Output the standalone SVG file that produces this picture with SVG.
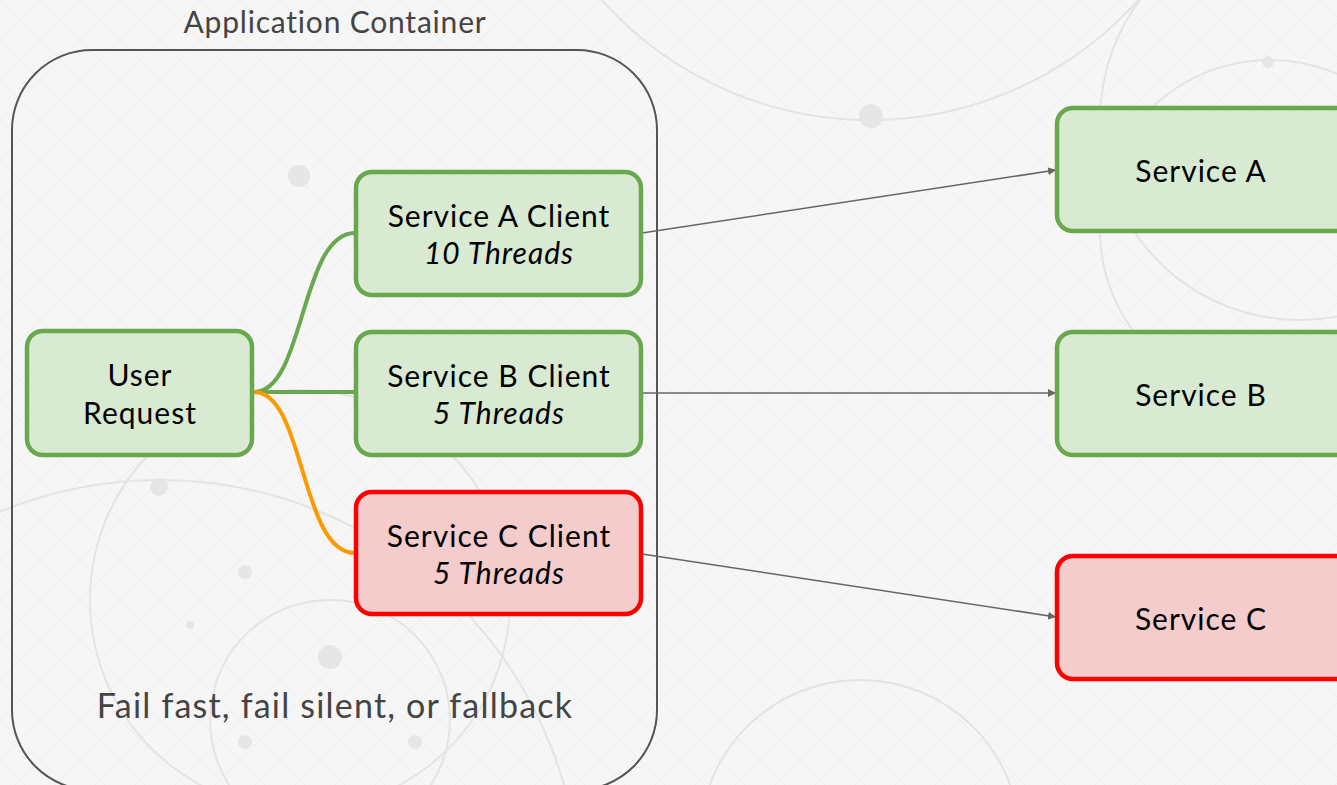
<svg xmlns="http://www.w3.org/2000/svg" width="1337" height="785" viewBox="0 0 1337 785">
<defs>
<style>
.bg{fill:#f6f6f6}
.hatch{fill:url(#hp)}
.deco{fill:none;stroke:#e4e4e4;stroke-width:2}
.dot{fill:#e6e6e6}
.ok{fill:#d9ead3;stroke:#6aa84f;stroke-width:4.5}
.bad{fill:#f4cccc;stroke:#ff0000;stroke-width:4.5}
.t{font-family:Lato,"Liberation Sans",sans-serif;font-size:30px;letter-spacing:1px;fill:#000;text-anchor:middle}
.i{font-style:italic}
.lbl{font-family:Lato,"Liberation Sans",sans-serif;fill:#444;text-anchor:middle}
.arr{fill:none;stroke:#666;stroke-width:1.6;marker-end:url(#ah)}
</style>
<pattern id="hp" width="40" height="40" patternUnits="userSpaceOnUse">
<path d="M0,0 L40,40 M40,0 L0,40" stroke="#efefef" stroke-width="1"/>
</pattern>
<marker id="ah" viewBox="0 0 10 10" refX="10" refY="5" markerWidth="8" markerHeight="8" markerUnits="userSpaceOnUse" orient="auto">
<path d="M0,0 L10,5 L0,10 z" fill="#666"/>
</marker>
</defs>
<rect class="bg" x="0" y="0" width="1337" height="785"/>
<rect class="hatch" x="0" y="0" width="1337" height="785"/>
<g id="background">
<circle class="deco" cx="300" cy="600" r="210"/>
<circle class="deco" cx="330" cy="720" r="120"/>
<circle class="deco" cx="870" cy="-240" r="360"/>
<circle class="deco" cx="1270" cy="230" r="170"/>
<circle class="deco" cx="1300" cy="120" r="200"/>
<circle class="deco" cx="160" cy="900" r="420"/>
<circle class="deco" cx="860" cy="840" r="160"/>
<circle class="dot" cx="299" cy="176" r="11"/>
<circle class="dot" cx="871" cy="116" r="12"/>
<circle class="dot" cx="159" cy="487" r="9"/>
<circle class="dot" cx="245" cy="572" r="7"/>
<circle class="dot" cx="330" cy="657" r="12"/>
<circle class="dot" cx="190" cy="625" r="4"/>
<circle class="dot" cx="245" cy="742" r="7"/>
<circle class="dot" cx="415" cy="742" r="7"/>
<circle class="dot" cx="1268" cy="62" r="6"/>
</g>
<g id="container">
<rect x="12" y="50" width="645" height="740" rx="80" fill="none" stroke="#555" stroke-width="2"/>
<text class="lbl" x="335" y="33" font-size="30" letter-spacing="0.8">Application Container</text>
<text class="lbl" x="335" y="718" font-size="34" letter-spacing="1.2">Fail fast, fail silent, or fallback</text>
</g>
<g id="connectors">
<path d="M254,392 C305,392 300,233 355,233" fill="none" stroke="#6aa84f" stroke-width="4"/>
<path d="M254,392 L355,392" fill="none" stroke="#6aa84f" stroke-width="4"/>
<path d="M254,392 C305,392 300,553 355,553" fill="none" stroke="#ff9900" stroke-width="4"/>
<path class="arr" d="M642,233 L1056,170"/>
<path class="arr" d="M642,393 L1056,393"/>
<path class="arr" d="M642,554 L1056,617"/>
</g>
<g id="user-request">
<rect class="ok" x="27" y="331" width="225" height="124" rx="16"/>
<text class="t" x="140" y="386">User</text>
<text class="t" x="140" y="424">Request</text>
</g>
<g id="service-a-client">
<rect class="ok" x="356" y="172" width="285" height="123" rx="16"/>
<text class="t" x="499" y="227">Service A Client</text>
<text class="t i" x="499" y="264">10 Threads</text>
</g>
<g id="service-b-client">
<rect class="ok" x="356" y="332" width="285" height="123" rx="16"/>
<text class="t" x="499" y="387">Service B Client</text>
<text class="t i" x="499" y="424">5 Threads</text>
</g>
<g id="service-c-client">
<rect class="bad" x="356" y="492" width="285" height="122" rx="16"/>
<text class="t" x="499" y="547">Service C Client</text>
<text class="t i" x="499" y="584">5 Threads</text>
</g>
<g id="service-a">
<rect class="ok" x="1057" y="108" width="300" height="123" rx="16"/>
<text class="t" x="1201" y="182">Service A</text>
</g>
<g id="service-b">
<rect class="ok" x="1057" y="332" width="300" height="123" rx="16"/>
<text class="t" x="1201" y="406">Service B</text>
</g>
<g id="service-c">
<rect class="bad" x="1057" y="556" width="300" height="123" rx="16"/>
<text class="t" x="1201" y="630">Service C</text>
</g>
</svg>
